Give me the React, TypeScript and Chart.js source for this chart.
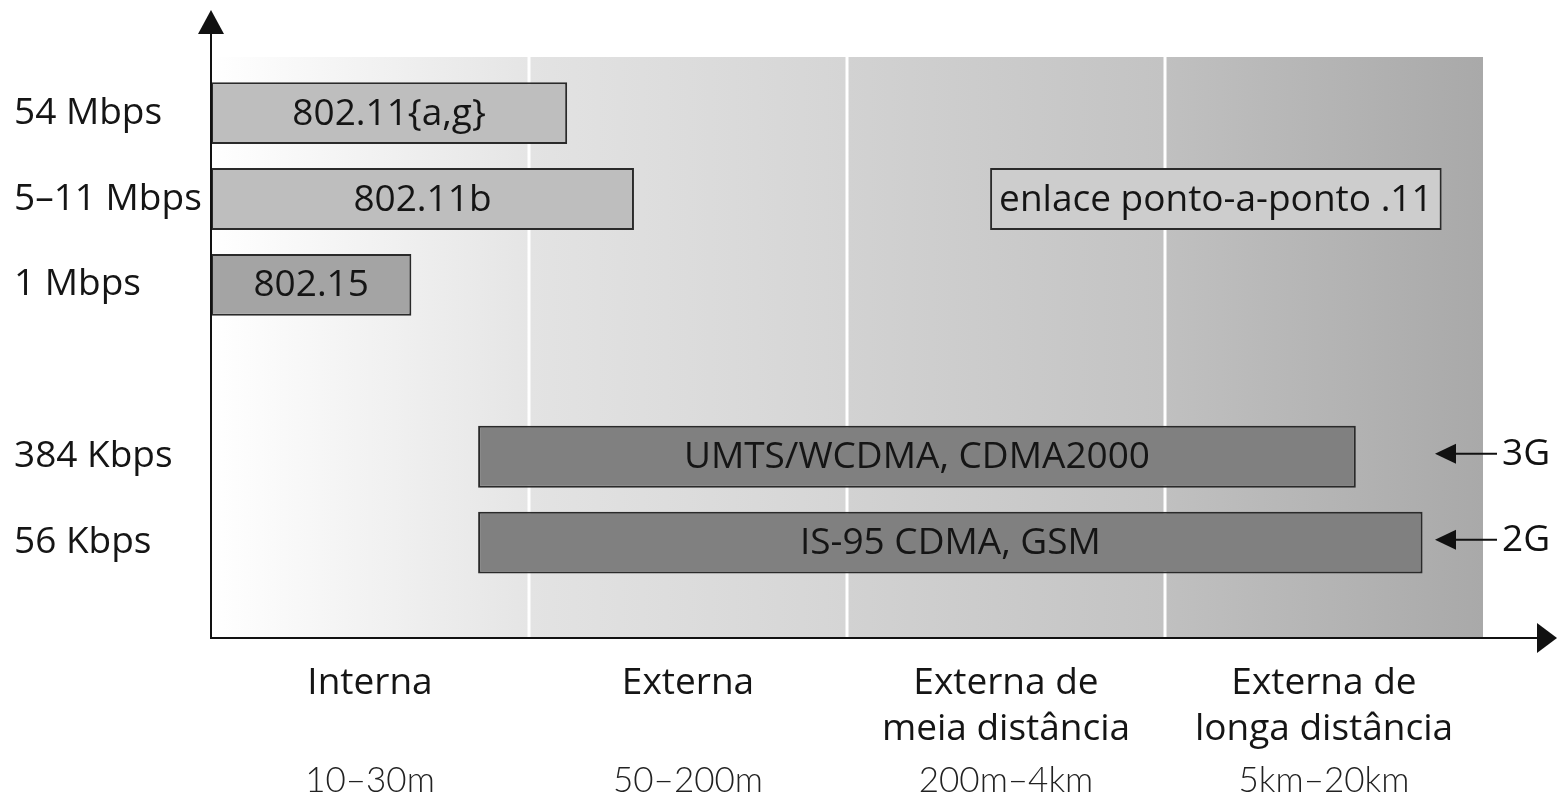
import React, { useEffect, useRef } from 'react';
import { Chart, registerables } from 'chart.js';

Chart.register(...registerables);

// ---- data ----
const rowLabels = ['54 Mbps', '5–11 Mbps', '1 Mbps', '', '384 Kbps', '56 Kbps'];
const rowTicks = [0, 1, 2, 4, 5];

const zoneNames = [['Interna'], ['Externa'], ['Externa de', 'meia distância'], ['Externa de', 'longa distância']];
const zoneRanges = ['10–30m', '50–200m', '200m–4km', '5km–20km'];
const zoneTicks = [0.5, 1.5, 2.5, 3.5];

const techNames = ['802.11{a,g}', '802.11b', '802.15', 'enlace ponto-a-ponto .11', 'UMTS/WCDMA, CDMA2000', 'IS-95 CDMA, GSM'];
const techRows = [0, 1, 2, 1, 4, 5];
const techStart = [0, 0, 0, 2.45, 0.84, 0.84];
const techEnd = [1.12, 1.33, 0.63, 3.87, 3.6, 3.81];

const generationLabels = ['3G', '2G'];
const generationRows = [4, 5];

// ---- styles ----
const techColors = ['#bebebe', '#bebebe', '#a4a4a4', '#cdcdcd', '#808080', '#808080'];
const zoneGradients = [
  ['#ffffff', '#e5e5e5'],
  ['#e3e3e3', '#d5d5d5'],
  ['#d2d2d2', '#c3c3c3'],
  ['#c0c0c0', '#a9a9a9'],
];
const FONT = '"Open Sans", "Noto Sans", sans-serif';
const TEXT = '#151515';
const FSIZE = 37;

const zonesPlugin = {
  id: 'zones',
  beforeDatasetsDraw(chart: any) {
    const { ctx, chartArea } = chart;
    const xs = chart.scales.x;
    ctx.save();
    zoneGradients.forEach((g, i) => {
      const x0 = xs.getPixelForValue(i);
      const x1 = xs.getPixelForValue(i + 1);
      const grad = ctx.createLinearGradient(x0, 0, x1, 0);
      grad.addColorStop(0, g[0]);
      grad.addColorStop(1, g[1]);
      ctx.fillStyle = grad;
      ctx.fillRect(x0, chartArea.top, x1 - x0, chartArea.bottom - chartArea.top);
    });
    ctx.fillStyle = '#ffffff';
    for (let i = 1; i < zoneGradients.length; i++) {
      const x = xs.getPixelForValue(i);
      ctx.fillRect(x - 1.5, chartArea.top, 3, chartArea.bottom - chartArea.top);
    }
    ctx.restore();
  },
};

const overlayPlugin = {
  id: 'overlay',
  afterDatasetsDraw(chart: any) {
    const { ctx, chartArea } = chart;
    const ys = chart.scales.y;
    ctx.save();
    // bar labels
    const meta = chart.getDatasetMeta(0);
    ctx.font = `${FSIZE}px ${FONT}`;
    ctx.fillStyle = TEXT;
    ctx.textAlign = 'center';
    ctx.textBaseline = 'middle';
    meta.data.forEach((el: any, i: number) => {
      const { x, y, base } = el.getProps(['x', 'y', 'base'], true);
      ctx.fillText(techNames[i], (x + base) / 2, y + 1);
    });

    // axes
    ctx.strokeStyle = '#111';
    ctx.fillStyle = '#111';
    ctx.lineWidth = 2;
    const L = chartArea.left;
    const B = chartArea.bottom;
    ctx.beginPath();
    ctx.moveTo(L, B + 1);
    ctx.lineTo(L, 30);
    ctx.moveTo(L, B);
    ctx.lineTo(1540, B);
    ctx.stroke();
    ctx.beginPath();
    ctx.moveTo(L, 10);
    ctx.lineTo(L - 13, 34);
    ctx.lineTo(L + 13, 34);
    ctx.closePath();
    ctx.fill();
    ctx.beginPath();
    ctx.moveTo(1557, B);
    ctx.lineTo(1537, B - 15);
    ctx.lineTo(1537, B + 15);
    ctx.closePath();
    ctx.fill();

    // generation arrows
    ctx.textAlign = 'left';
    generationLabels.forEach((lab, i) => {
      const y = ys.getPixelForValue(generationRows[i]) - 3;
      const tip = chartArea.right - 48;
      ctx.beginPath();
      ctx.moveTo(tip, y);
      ctx.lineTo(tip + 21, y - 10);
      ctx.lineTo(tip + 21, y + 10);
      ctx.closePath();
      ctx.fill();
      ctx.beginPath();
      ctx.moveTo(tip + 18, y);
      ctx.lineTo(chartArea.right + 14, y);
      ctx.stroke();
      ctx.fillText(lab, chartArea.right + 19, y + 1);
    });
    ctx.restore();
  },
};

export default function App() {
  const ref = useRef<HTMLCanvasElement | null>(null);

  useEffect(() => {
    document.body.style.margin = '0';
    let chart: Chart | null = null;
    let cancelled = false;
    const make = () => {
      if (cancelled || !ref.current) return;
      chart = new Chart(ref.current, {
        type: 'bar',
        data: {
          datasets: [
            {
              label: 'Tecnologias',
              data: techRows.map((r, i) => ({ y: r, x: [techStart[i], techEnd[i]] })) as any,
              backgroundColor: techColors,
              borderColor: '#2a2a2a',
              borderWidth: 2,
              borderSkipped: false,
              grouped: false,
            } as any,
          ],
        },
        options: {
          indexAxis: 'y',
          animation: false,
          responsive: false,
          events: [],
          layout: { padding: { top: 57, left: 14, right: 76, bottom: 0 } },
          plugins: { legend: { display: false }, tooltip: { enabled: false } },
          scales: {
            y: {
              type: 'linear',
              reverse: true,
              offset: false,
              min: -0.653,
              max: 6.11,
              grid: { display: false, drawTicks: false, offset: false },
              border: { display: false },
              afterBuildTicks: (s: any) => {
                s.ticks = rowTicks.map((v) => ({ value: v }));
              },
              afterFit: (s: any) => {
                s.width = 197;
              },
              ticks: {
                crossAlign: 'far',
                color: TEXT,
                font: { family: FONT, size: FSIZE },
                callback: (v: any) => rowLabels[v as number],
              },
            },
            x: {
              type: 'linear',
              position: 'bottom',
              weight: 1,
              min: 0,
              max: 4,
              grid: { display: false, drawTicks: false },
              border: { display: false },
              afterBuildTicks: (s: any) => {
                s.ticks = zoneTicks.map((v) => ({ value: v }));
              },
              afterFit: (s: any) => {
                s.height = 118;
              },
              ticks: {
                autoSkip: false,
                maxRotation: 0,
                padding: 22,
                color: TEXT,
                font: { family: FONT, size: FSIZE, lineHeight: '46px' },
                callback: (v: any) => zoneNames[Math.floor(v as number)],
              },
            },
            x2: {
              type: 'linear',
              position: 'bottom',
              weight: 2,
              min: 0,
              max: 4,
              grid: { display: false, drawTicks: false },
              border: { display: false },
              afterBuildTicks: (s: any) => {
                s.ticks = zoneTicks.map((v) => ({ value: v }));
              },
              afterFit: (s: any) => {
                s.height = 44;
              },
              ticks: {
                autoSkip: false,
                maxRotation: 0,
                padding: 7,
                color: '#222222',
                font: { family: 'Lato, "Open Sans", sans-serif', size: 35, weight: '300', lineHeight: '36px' },
                callback: (v: any) => zoneRanges[Math.floor(v as number)],
              },
            },
          },
        } as any,
        plugins: [zonesPlugin, overlayPlugin],
      });
    };
    const fonts = (document as any).fonts;
    if (fonts && fonts.load) {
      Promise.all([
        fonts.load(`${FSIZE}px "Open Sans"`),
        fonts.load('300 35px Lato'),
      ]).then(make, make);
    } else {
      make();
    }
    return () => {
      cancelled = true;
      if (chart) chart.destroy();
    };
  }, []);

  return (
    <div style={{ position: 'fixed', left: 0, top: 0, width: 1559, height: 800, background: '#fff' }}>
      <canvas ref={ref} width={1559} height={800} style={{ width: 1559, height: 800, display: 'block' }} />
    </div>
  );
}
